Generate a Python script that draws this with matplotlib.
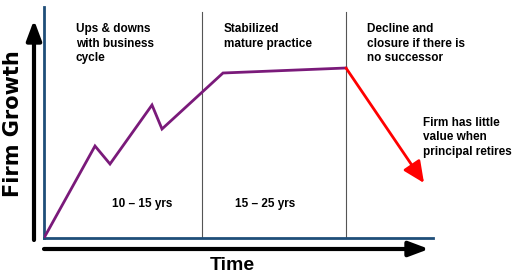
import matplotlib
matplotlib.use("Agg")
import matplotlib.pyplot as plt

# Data (arbitrary units: time from origin, growth from baseline)
growth_time = [0, 51, 66, 108, 118, 179, 302]
growth_vals = [0, 92, 74, 133, 109, 165, 170]
decline_time = [302, 380]
decline_vals = [170, 55]
phase_bounds = [158, 302]
phase_titles = ["Ups & downs\nwith business\ncycle", "Stabilized\nmature practice",
                "Decline and\nclosure if there is\nno successor"]
phase_title_x = [32, 180, 323]
durations = ["10 – 15 yrs", "15 – 25 yrs"]
duration_x = [98, 221]
note = "Firm has little\nvalue when\nprincipal retires"

W, H = 519, 274
fig = plt.figure(figsize=(W / 100, H / 100), dpi=100)
plt.rcParams['font.family'] = ['Liberation Sans', 'DejaVu Sans']

ax = fig.add_axes([44 / W, (H - 238) / H, (433 - 44) / W, (238 - 7) / H])
ax.set_xlim(0, 389)
ax.set_ylim(0, 231)
for s in ['top', 'right']:
    ax.spines[s].set_visible(False)
for s in ['left', 'bottom']:
    ax.spines[s].set_color('#1f4e79')
    ax.spines[s].set_linewidth(2)
ax.set_xticks([])
ax.set_yticks([])

for b in phase_bounds:
    ax.plot([b, b], [0, 226], color='#555555', lw=0.8, zorder=1)

ax.plot(growth_time, growth_vals, color='#7a1a7a', lw=2, zorder=3, solid_joinstyle='miter')
ax.annotate('', xy=(decline_time[1], decline_vals[1]), xytext=(decline_time[0], decline_vals[0]),
            arrowprops=dict(arrowstyle='-|>,head_length=1.3,head_width=0.6', color='#ff0000', lw=2,
                            shrinkA=0, shrinkB=0), zorder=3)

for t, x in zip(phase_titles, phase_title_x):
    ax.text(x, 215, t, ha='left', va='top', fontsize=8.5, fontweight='bold', linespacing=1.28)
for t, x in zip(durations, duration_x):
    ax.text(x, 34, t, ha='center', va='center', fontsize=8.5, fontweight='bold')
ax.text(379, 121, note, ha='left', va='top', fontsize=8.5, fontweight='bold', linespacing=1.25)

# Black axis arrows (figure pixels)
ax.annotate('', xy=(34, H - 20), xytext=(34, H - 240), xycoords='figure pixels',
            textcoords='figure pixels',
            arrowprops=dict(arrowstyle='-|>,head_length=1.2,head_width=0.45', color='black', lw=3,
                            shrinkA=0, shrinkB=0), annotation_clip=False)
ax.annotate('', xy=(429, H - 249), xytext=(44, H - 249), xycoords='figure pixels',
            textcoords='figure pixels',
            arrowprops=dict(arrowstyle='-|>,head_length=1.2,head_width=0.45', color='black', lw=3,
                            shrinkA=0, shrinkB=0), annotation_clip=False)

fig.text(13 / W, (H - 124) / H, "Firm Growth", rotation=90, ha='center', va='center',
         fontsize=15, fontweight='bold', family=['DejaVu Sans'])
fig.text(232 / W, (H - 265) / H, "Time", ha='center', va='center', fontsize=14, fontweight='bold')

fig.savefig("out.png", dpi=100)
